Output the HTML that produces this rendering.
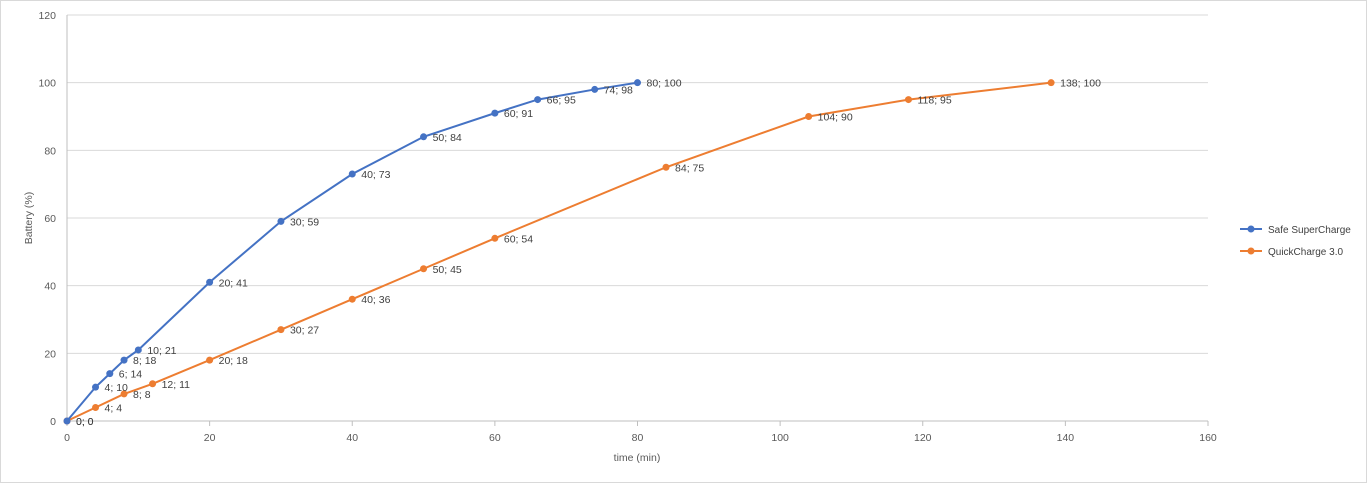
<!DOCTYPE html>
<html><head><meta charset="utf-8"><style>
html,body{margin:0;padding:0;background:#fff}
svg{display:block;font-family:"Liberation Sans",sans-serif}
</style></head><body>
<svg id="chart" width="1368" height="484">
<rect x="0.5" y="0.5" width="1366" height="482" fill="#fff" stroke="#d9d9d9"/>
<g id="grid"></g>
<g id="axes"></g>
<g id="series"></g>
<text x="637" y="461" text-anchor="middle" font-size="10.5" fill="#595959">time (min)</text>
<text transform="translate(32,218) rotate(-90)" text-anchor="middle" font-size="10.5" fill="#595959">Battery (%)</text>
<g>
<g>
<line x1="1240" y1="229" x2="1262" y2="229" stroke="#4472C4" stroke-width="2"/><circle cx="1251" cy="229" r="3.5" fill="#4472C4"/>
<text x="1268" y="233" font-size="10" fill="#404040">Safe SuperCharge</text></g>
<g>
<line x1="1240" y1="251" x2="1262" y2="251" stroke="#ED7D31" stroke-width="2"/><circle cx="1251" cy="251" r="3.5" fill="#ED7D31"/>
<text x="1268" y="255" font-size="10" fill="#404040">QuickCharge 3.0</text></g>
</g>
</svg>
<script>
const xTicks=[0,20,40,60,80,100,120,140,160];
const yTicks=[0,20,40,60,80,100,120];
const safeX=[0,4,6,8,10,20,30,40,50,60,66,74,80];
const safeY=[0,10,14,18,21,41,59,73,84,91,95,98,100];
const quickX=[0,4,8,12,20,30,40,50,60,84,104,118,138];
const quickY=[0,4,8,11,18,27,36,45,54,75,90,95,100];
const NS="http://www.w3.org/2000/svg";
const X=v=>67+v*(1208-67)/160;
const Y=v=>421-v*(421-15)/120;
function mk(tag,attrs,parent,txt){const e=document.createElementNS(NS,tag);for(const k in attrs)e.setAttribute(k,attrs[k]);if(txt!==undefined)e.textContent=txt;parent.appendChild(e);return e;}
const grid=document.getElementById('grid'),axes=document.getElementById('axes'),ser=document.getElementById('series');
yTicks.forEach(t=>{
 const l=mk('line',{x1:67,x2:1208,y1:Y(t),y2:Y(t),stroke:t===0?'#bfbfbf':'#d9d9d9','stroke-width':1},grid);
 
 
 const tx=mk('text',{x:56,y:Y(t)+4,'text-anchor':'end','font-size':10.5,fill:'#595959'},axes,t);
 
 
});
mk('line',{x1:67,x2:67,y1:15,y2:421,stroke:'#bfbfbf'},grid);
xTicks.forEach(t=>{
 const k=mk('line',{x1:X(t),x2:X(t),y1:421,y2:426,stroke:'#bfbfbf'},axes);
 
 
 const tx=mk('text',{x:X(t),y:441,'text-anchor':'middle','font-size':10.5,fill:'#595959'},axes,t);
 
 
});
function draw(xs,ys,color,name){
 const g=mk('g',{},ser);
 
 
 const p=mk('polyline',{points:xs.map((x,i)=>X(x)+','+Y(ys[i])).join(' '),fill:'none',stroke:color,'stroke-width':2},g);
 
 
 xs.forEach((x,i)=>{
  const c=mk('circle',{cx:X(x),cy:Y(ys[i]),r:3.5,fill:color},g);
  
  
  const t=mk('text',{x:X(x)+9,y:Y(ys[i])+4,'font-size':10.5,fill:'#404040'},g,x+'; '+ys[i]);
  
  
 });
}
draw(quickX,quickY,'#ED7D31','quickcharge');
draw(safeX,safeY,'#4472C4','safe-supercharge');
</script>
</body></html>
